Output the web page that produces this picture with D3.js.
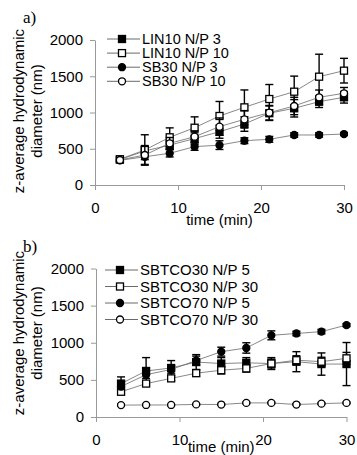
<!DOCTYPE html>
<html>
<head>
<meta charset="utf-8">
<script src="https://cdn.jsdelivr.net/npm/d3@7"></script>
<style>
  body { margin: 0; background: #fff; }
  svg { display: block; }
  text { font-family: "Liberation Sans", Arial, sans-serif; fill: #000; }
</style>
</head>
<body>
<div id="chart"></div>
<script>
// time points (min)
const times = [3, 6, 9, 12, 15, 18, 21, 24, 27, 30];
const xTicks = [0, 10, 20, 30];
const yTicks = [0, 500, 1000, 1500, 2000];

// panel a
const namesA = ["LIN10 N/P 3", "LIN10 N/P 10", "SB30 N/P 3", "SB30 N/P 10"];
const lin10np3 = [350, 470, 550, 640, 735, 841, 990, 1058, 1149, 1210];
const lin10np3Err = [30, 60, 60, 80, 90, 100, 100, 120, 80, 80];
const lin10np10 = [355, 483, 658, 790, 952, 1071, 1186, 1287, 1494, 1577];
const lin10np10Err = [30, 210, 130, 150, 200, 240, 200, 215, 310, 170];
const sb30np3 = [340, 390, 437, 529, 550, 611, 630, 690, 690, 703];
const sb30np3Err = [20, 40, 50, 50, 60, 40, 40, 30, 30, 20];
const sb30np10 = [345, 414, 575, 666, 805, 906, 997, 1090, 1210, 1265];
const sb30np10Err = [20, 130, 80, 80, 120, 120, 100, 120, 100, 80];

// panel b
const namesB = ["SBTCO30 N/P 5", "SBTCO30 N/P 30", "SBTCO70 N/P 5", "SBTCO70 N/P 30"];
const sbtco30np5 = [450, 620, 660, 740, 720, 730, 720, 745, 713, 713];
const sbtco30np5Err = [90, 180, 100, 100, 80, 70, 80, 135, 150, 290];
const sbtco30np30 = [340, 450, 520, 590, 630, 655, 720, 765, 745, 790];
const sbtco30np30Err = [30, 30, 30, 40, 50, 50, 60, 60, 60, 80];
const sbtco70np5 = [410, 570, 640, 760, 880, 930, 1100, 1125, 1150, 1238];
const sbtco70np5Err = [40, 50, 50, 60, 60, 70, 60, 30, 30, 20];
const sbtco70np30 = [160, 162, 162, 170, 168, 190, 190, 168, 180, 190];
const sbtco70np30Err = [15, 10, 10, 10, 10, 10, 10, 10, 10, 10];

// marker styles: filled square, open square, filled circle, open circle
const markers = [
    {shape: "square", fill: "#000"},
    {shape: "square", fill: "#fff"},
    {shape: "circle", fill: "#000"},
    {shape: "circle", fill: "#fff"}
];

const width = 357, height = 455;

const svg = d3.select("#chart")
    .append("svg")
    .attr("width", width)
    .attr("height", height);

const drawMarker = (g, shape, fill, cx, cy) => {
    if (shape === "square") {
        g.append("rect")
            .attr("x", cx - 3.5).attr("y", cy - 3.5)
            .attr("width", 7).attr("height", 7)
            .attr("fill", fill).attr("stroke", "#000").attr("stroke-width", 1.3);
    } else {
        g.append("circle")
            .attr("cx", cx).attr("cy", cy).attr("r", 3.5)
            .attr("fill", fill).attr("stroke", "#000").attr("stroke-width", 1.3);
    }
};

const drawPanel = (props) => {
    const {xRange, yRange, label, labelY, names, series, errors, legendY, legendStep, legendX, legendFont, titleY, xTitleY} = props;

    const x = d3.scaleLinear().domain([0, 30]).range(xRange);
    const y = d3.scaleLinear().domain([0, 2000]).range(yRange);

    const g = svg.append("g");

    // y axis
    const yAxis = g.append("g")
        .attr("transform", "translate(" + xRange[0] + ",0)")
        .call(d3.axisLeft(y).tickValues(yTicks).tickFormat(d3.format("d"))
            .tickSize(5).tickSizeOuter(0).tickPadding(7));
    yAxis.selectAll("text").style("font-size", "15px").style("font-family", "'Liberation Sans', Arial, sans-serif");

    // x axis
    const xAxis = g.append("g")
        .attr("transform", "translate(0," + yRange[0] + ")")
        .call(d3.axisBottom(x).tickValues(xTicks).tickFormat(d3.format("d"))
            .tickSize(5).tickSizeOuter(0).tickPadding(12));
    xAxis.selectAll("text").style("font-size", "15px").style("font-family", "'Liberation Sans', Arial, sans-serif");

    g.selectAll(".domain, .tick line").attr("stroke", "#9a9a9a");

    // titles
    g.append("text")
        .attr("x", (xRange[0] + xRange[1]) / 2)
        .attr("y", xTitleY)
        .attr("text-anchor", "middle")
        .style("font-size", "15px")
        .text("time (min)");

    g.append("text")
        .attr("transform", "translate(24," + titleY + ") rotate(-90)")
        .attr("text-anchor", "middle")
        .style("font-size", "15px")
        .text("z-average hydrodynamic");
    g.append("text")
        .attr("transform", "translate(42," + titleY + ") rotate(-90)")
        .attr("text-anchor", "middle")
        .style("font-size", "15px")
        .text("diameter (nm)");

    g.append("text")
        .attr("x", 23)
        .attr("y", labelY)
        .style("font-family", "'Liberation Serif', 'Times New Roman', serif")
        .style("font-size", "17px")
        .text(label);

    // series
    const line = d3.line()
        .x((d, i) => x(times[i]))
        .y(d => y(d));

    series.forEach((vals, s) => {
        const sg = g.append("g");
        sg.append("path")
            .datum(vals)
            .attr("d", line)
            .attr("fill", "none")
            .attr("stroke", "#6a6a6a")
            .attr("stroke-width", 0.8);

        vals.forEach((v, i) => {
            const cx = x(times[i]);
            const e = errors[s][i];
            const top = y(v + e), bot = y(v - e);
            sg.append("line")
                .attr("x1", cx).attr("x2", cx).attr("y1", top).attr("y2", bot)
                .attr("stroke", "#000").attr("stroke-width", 1.4);
            [top, bot].forEach(yy => {
                sg.append("line")
                    .attr("x1", cx - 4).attr("x2", cx + 4).attr("y1", yy).attr("y2", yy)
                    .attr("stroke", "#000").attr("stroke-width", 1.4);
            });
        });

        vals.forEach((v, i) => drawMarker(sg, markers[s].shape, markers[s].fill, x(times[i]), y(v)));
    });

    // legend
    const lg = g.append("g");
    names.forEach((n, i) => {
        const ly = legendY + i * legendStep;
        lg.append("line")
            .attr("x1", legendX).attr("x2", legendX + 33)
            .attr("y1", ly).attr("y2", ly)
            .attr("stroke", "#6a6a6a").attr("stroke-width", 1);
        drawMarker(lg, markers[i].shape, markers[i].fill, legendX + 15, ly);
        lg.append("text")
            .attr("x", legendX + 35)
            .attr("y", ly)
            .attr("dy", "0.35em")
            .style("font-size", legendFont)
            .text(n);
    });
};

drawPanel({
    xRange: [95, 344],
    yRange: [185, 40],
    label: "a)",
    labelY: 23,
    names: namesA,
    series: [lin10np3, lin10np10, sb30np3, sb30np10],
    errors: [lin10np3Err, lin10np10Err, sb30np3Err, sb30np10Err],
    legendY: 39,
    legendStep: 14.1,
    legendX: 107,
    legendFont: "14.5px",
    titleY: 111,
    xTitleY: 224.5
});

drawPanel({
    xRange: [96, 346.5],
    yRange: [417, 268.5],
    label: "b)",
    labelY: 252,
    names: namesB,
    series: [sbtco30np5, sbtco30np30, sbtco70np5, sbtco70np30],
    errors: [sbtco30np5Err, sbtco30np30Err, sbtco70np5Err, sbtco70np30Err],
    legendY: 270,
    legendStep: 16.5,
    legendX: 105,
    legendFont: "15px",
    titleY: 333,
    xTitleY: 451.5
});
</script>
</body>
</html>
